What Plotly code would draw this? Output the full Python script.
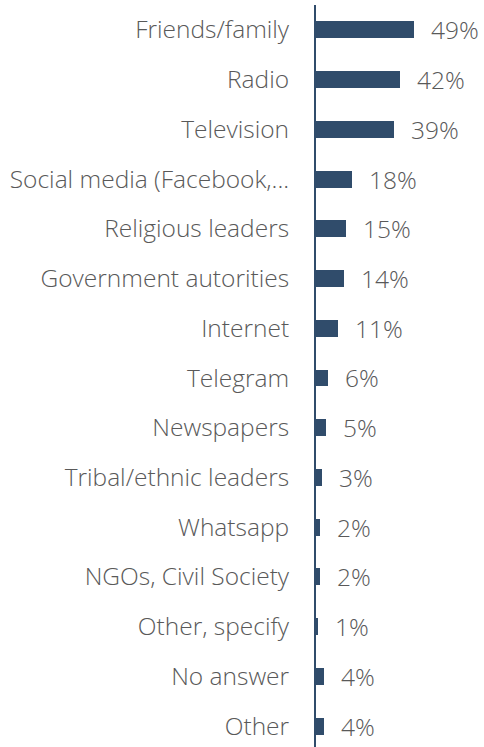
import plotly.graph_objects as go

# Sources of information, share of respondents (%)
categories = [
    "Friends/family", "Radio", "Television", "Social media (Facebook,...",
    "Religious leaders", "Government autorities", "Internet", "Telegram",
    "Newspapers", "Tribal/ethnic leaders", "Whatsapp", "NGOs, Civil Society",
    "Other, specify", "No answer", "Other",
]
values = [49, 42, 39, 18, 15, 14, 11, 6, 5, 3, 2, 2, 1, 4, 4]
value_labels = [f"{v}%" for v in values]

BAR = "#304C6B"
TEXT = "#595959"
FONT = "Open Sans"

idx = list(range(len(categories)))

fig = go.Figure(
    go.Bar(
        x=values,
        y=idx,
        orientation="h",
        width=0.34,
        marker=dict(color=BAR, line=dict(width=0)),
        hoverinfo="skip",
    )
)

for i, (v, lab) in enumerate(zip(values, value_labels)):
    fig.add_annotation(
        x=v, y=i, text=lab, showarrow=False,
        xanchor="left", yanchor="middle", xshift=15,
        font=dict(family=FONT, size=24.5, color=TEXT, weight=300),
    )

fig.update_layout(
    width=484, height=747,
    margin=dict(l=316, r=0, t=5, b=0),
    paper_bgcolor="white", plot_bgcolor="white",
    showlegend=False,
    bargap=0,
    xaxis=dict(range=[0, 84], visible=False, fixedrange=True),
    yaxis=dict(
        tickmode="array", tickvals=idx, ticktext=categories,
        range=[14.42, -0.5],
        showline=True, linecolor=BAR, linewidth=2,
        showgrid=False, zeroline=False, ticks="",
        ticklabelstandoff=20,
        tickfont=dict(family=FONT, size=24.5, color=TEXT, weight=300),
        fixedrange=True,
    ),
)

fig.write_html("out.html")
